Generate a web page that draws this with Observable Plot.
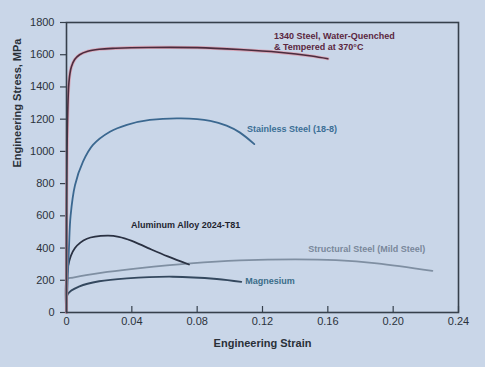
<!DOCTYPE html>
<html>
<head>
<meta charset="utf-8">
<script src="https://cdn.jsdelivr.net/npm/d3@7"></script>
<script src="https://cdn.jsdelivr.net/npm/@observablehq/plot@0.6"></script>
<style>
  html, body { margin: 0; padding: 0; background: #c9d6e8; }
  #chart { width: 485px; height: 367px; overflow: hidden; }
</style>
</head>
<body>
<div id="chart"></div>
<script>
// Tick values
const xTicks = [0, 0.04, 0.08, 0.12, 0.16, 0.20, 0.24];
const yTicks = [0, 200, 400, 600, 800, 1000, 1200, 1400, 1600, 1800];

// Series: engineering strain and stress (MPa)
const steel1340Strain = [0, 0.0015, 0.003, 0.005, 0.008, 0.013, 0.02, 0.03, 0.05, 0.08, 0.106, 0.13, 0.15, 0.16];
const steel1340Stress = [0, 1430, 1525, 1570, 1600, 1622, 1634, 1640, 1645, 1644, 1632, 1615, 1592, 1575];

const stainlessStrain = [0, 0.0015, 0.0025, 0.0052, 0.0101, 0.0162, 0.0266, 0.037, 0.051, 0.07, 0.088, 0.098, 0.106, 0.115];
const stainlessStress = [0, 400, 600, 790, 936, 1040, 1122, 1165, 1195, 1205, 1190, 1160, 1118, 1045];

const aluminumStrain = [0, 0.001, 0.0052, 0.0125, 0.025, 0.032, 0.04, 0.05, 0.062, 0.075];
const aluminumStress = [0, 290, 400, 458, 477, 470, 445, 400, 348, 298];

const structuralStrain = [0, 0.0005, 0.004, 0.012, 0.025, 0.045, 0.076, 0.106, 0.14, 0.165, 0.19, 0.224];
const structuralStress = [0, 208, 216, 232, 252, 276, 305, 323, 330, 325, 305, 258];

const magnesiumStrain = [0, 0.0008, 0.008, 0.02, 0.037, 0.065, 0.092, 0.107];
const magnesiumStress = [0, 115, 162, 194, 212, 222, 208, 190];

const seriesNames = ["1340 Steel, Water-Quenched\n& Tempered at 370°C", "Stainless Steel (18-8)", "Aluminum Alloy 2024-T81", "Structural Steel (Mild Steel)", "Magnesium"];

const toRows = (xs, ys) => xs.map((x, i) => ({strain: x, stress: ys[i]}));
const steel1340 = toRows(steel1340Strain, steel1340Stress);
const stainless = toRows(stainlessStrain, stainlessStress);
const aluminum = toRows(aluminumStrain, aluminumStress);
const structural = toRows(structuralStrain, structuralStress);
const magnesium = toRows(magnesiumStrain, magnesiumStress);

const axisColor = "#36404c";
const font = "'Liberation Sans', Arial, sans-serif";

const lineOpts = (stroke, w = 1.8) => ({x: "strain", y: "stress", stroke, strokeWidth: w, curve: "catmull-rom"});
const label = (text, x, y, fill) => Plot.text([text], {x: () => x, y: () => y, text: d => d, fill, textAnchor: "start", fontWeight: "bold", fontSize: 9, lineHeight: 1.2});

const chart = Plot.plot({
  width: 485,
  height: 367,
  marginLeft: 66,
  marginRight: 27,
  marginTop: 22,
  marginBottom: 55,
  style: {background: "transparent", fontFamily: font, fontSize: "11px", color: "#2b323b"},
  x: {domain: [0, 0.24]},
  y: {domain: [0, 1800]},
  marks: [
    Plot.axisY({ticks: yTicks, tickSize: 6, tickPadding: 6, label: null, stroke: axisColor, strokeWidth: 1.2, tickFormat: d => String(d)}),
    Plot.axisX({ticks: xTicks, tickSize: -6, tickPadding: 11, label: null, stroke: axisColor, strokeWidth: 1.2, tickFormat: d => d === 0 ? "0" : d.toFixed(2)}),
    Plot.line(structural, lineOpts("#7f8fa2", 1.8)),
    Plot.line(magnesium, lineOpts("#34485e", 1.8)),
    Plot.line(aluminum, lineOpts("#2a3142", 1.8)),
    Plot.line(stainless, lineOpts("#3b6890", 1.8)),
    Plot.line(steel1340, lineOpts("#d8a7b8", 3.2)),
    Plot.line(steel1340, lineOpts("#4a2c3e", 1.6)),
    Plot.frame({stroke: axisColor, strokeWidth: 1.6}),
    label(seriesNames[0], 0.127, 1686, "#5b2740"),
    label(seriesNames[1], 0.1105, 1143, "#3b6f96"),
    label(seriesNames[2], 0.0395, 543, "#1f2530"),
    label(seriesNames[3], 0.148, 394, "#7a889b"),
    label(seriesNames[4], 0.1095, 196, "#3b6d88"),
    Plot.text(["Engineering Stress, MPa"], {frameAnchor: "left", rotate: -90, dx: -49, text: d => d, fontWeight: "bold", fontSize: 11, fill: "#2a3038"}),
    Plot.text(["Engineering Strain"], {frameAnchor: "bottom", dy: 34, text: d => d, fontWeight: "bold", fontSize: 11, fill: "#2a3038"})
  ]
});
document.getElementById("chart").appendChild(chart);
</script>
</body>
</html>
